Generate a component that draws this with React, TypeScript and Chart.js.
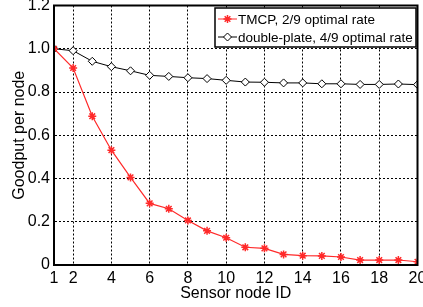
import React, { useEffect, useRef } from "react";
import { Chart, registerables } from "chart.js";

Chart.register(...registerables);

const nodeIds = [1, 2, 3, 4, 5, 6, 7, 8, 9, 10, 11, 12, 13, 14, 15, 16, 17, 18, 19, 20];
const tmcp = [1.0, 0.911, 0.688, 0.531, 0.405, 0.285, 0.26, 0.206, 0.158, 0.126, 0.082, 0.077, 0.049, 0.043, 0.042, 0.037, 0.023, 0.023, 0.023, 0.015];
const doublePlate = [1.0, 0.991, 0.942, 0.917, 0.898, 0.877, 0.872, 0.866, 0.862, 0.854, 0.846, 0.845, 0.842, 0.842, 0.838, 0.838, 0.835, 0.835, 0.837, 0.834];
const xTicks = [1, 2, 4, 6, 8, 10, 12, 14, 16, 18, 20];
const seriesLabels = ["TMCP, 2/9 optimal rate", "double-plate, 4/9 optimal rate"];
const xTitle = "Sensor node ID";
const yTitle = "Goodput per node";

const FONT = "'Liberation Sans', Arial, sans-serif";
const RED = "#ff2a2a";

function drawMarker(ctx: CanvasRenderingContext2D, style: string, x: number, y: number, r: number) {
  ctx.beginPath();
  if (style === "star") {
    ctx.moveTo(x - r, y);
    ctx.lineTo(x + r, y);
    ctx.moveTo(x, y - r);
    ctx.lineTo(x, y + r);
    const d = r * Math.SQRT1_2;
    ctx.moveTo(x - d, y - d);
    ctx.lineTo(x + d, y + d);
    ctx.moveTo(x - d, y + d);
    ctx.lineTo(x + d, y - d);
    ctx.stroke();
  } else {
    ctx.moveTo(x, y - r);
    ctx.lineTo(x + r, y);
    ctx.lineTo(x, y + r);
    ctx.lineTo(x - r, y);
    ctx.closePath();
    ctx.fill();
    ctx.stroke();
  }
}

const framePlugin = {
  id: "frameAndLegend",
  afterDraw(chart: any) {
    const { ctx, chartArea } = chart;
    const { left, top, right, bottom } = chartArea;
    ctx.save();
    ctx.strokeStyle = "#000";
    ctx.lineWidth = 2;
    ctx.setLineDash([]);
    ctx.strokeRect(left, top, right - left, bottom - top);

    // legend box
    const bx = 215, by = 8, bw = 201, bh = 39;
    ctx.fillStyle = "#fff";
    ctx.fillRect(bx, by, bw, bh);
    ctx.lineWidth = 1.5;
    ctx.strokeRect(bx, by, bw, bh);
    ctx.font = `13.5px ${FONT}`;
    ctx.textBaseline = "middle";
    ctx.textAlign = "left";
    const rows = [by + 11, by + 29];
    chart.data.datasets.forEach((ds: any, i: number) => {
      const y = rows[i];
      ctx.strokeStyle = ds.borderColor;
      ctx.lineWidth = 1;
      ctx.beginPath();
      ctx.moveTo(bx + 3, y);
      ctx.lineTo(bx + 22, y);
      ctx.stroke();
      ctx.fillStyle = ds.pointBackgroundColor;
      ctx.strokeStyle = ds.pointBorderColor;
      ctx.lineWidth = ds.pointBorderWidth || 1;
      drawMarker(ctx, ds.pointStyle, bx + 12.5, y, ds.pointRadius);
      ctx.fillStyle = "#000";
      ctx.fillText(ds.label, bx + 23, y + 1);
    });
    ctx.restore();
  },
};

export default function App() {
  const ref = useRef<HTMLCanvasElement>(null);
  useEffect(() => {
    document.body.style.margin = "0";
    const canvas = ref.current!;
    const chart = new Chart(canvas, {
      type: "line",
      data: {
        datasets: [
          {
            label: seriesLabels[0],
            data: nodeIds.map((x, i) => ({ x, y: tmcp[i] })),
            borderColor: RED,
            backgroundColor: RED,
            pointBackgroundColor: RED,
            pointBorderColor: RED,
            pointStyle: "star",
            pointRadius: 4,
            pointBorderWidth: 1.5,
            borderWidth: 1.2,
            tension: 0,
          },
          {
            label: seriesLabels[1],
            data: nodeIds.map((x, i) => ({ x, y: doublePlate[i] })),
            borderColor: "#000",
            backgroundColor: "#fff",
            pointBackgroundColor: "#fff",
            pointBorderColor: "#000",
            pointStyle: "rectRot",
            pointRadius: 4,
            pointBorderWidth: 1,
            borderWidth: 1,
            tension: 0,
          },
        ],
      },
      options: {
        animation: false,
        responsive: false,
        layout: { padding: { top: 5, right: 4, left: 0, bottom: 0 } },
        plugins: { legend: { display: false }, tooltip: { enabled: false } },
        scales: {
          x: {
            type: "linear",
            min: 1,
            max: 20,
            afterBuildTicks: (scale: any) => {
              scale.ticks = xTicks.map((v) => ({ value: v }));
            },
            afterFit: (scale: any) => {
              scale.height = 42;
              scale.paddingLeft = 0;
              scale.paddingRight = 0;
            },
            grid: { color: "#000", lineWidth: 1, drawTicks: false },
            border: { dash: [2, 2], color: "#000", width: 2 },
            ticks: {
              color: "#000",
              font: { family: FONT, size: 16 },
              padding: 4,
              maxRotation: 0,
              autoSkip: false,
            },
            title: {
              display: true,
              text: xTitle,
              color: "#000",
              font: { family: FONT, size: 16 },
              padding: { top: 0, bottom: 4 },
            },
          },
          y: {
            type: "linear",
            min: 0,
            max: 1.2,
            afterFit: (scale: any) => {
              scale.width = 54;
              scale.paddingTop = 0;
              scale.paddingBottom = 0;
            },
            grid: { color: "#000", lineWidth: 1, drawTicks: false },
            border: { dash: [2, 2], color: "#000", width: 2 },
            ticks: {
              stepSize: 0.2,
              color: "#000",
              font: { family: FONT, size: 16 },
              padding: 4,
              callback: (v: any) => (Math.abs(v) < 1e-9 ? "0" : Number(v).toFixed(1)),
            },
            title: {
              display: true,
              text: yTitle,
              color: "#000",
              font: { family: FONT, size: 16 },
              padding: { top: 10, bottom: 0 },
            },
          },
        },
      },
      plugins: [framePlugin],
    } as any);
    return () => chart.destroy();
  }, []);
  return (
    <div style={{ position: "absolute", left: 0, top: 0, width: 423, height: 307 }}>
      <canvas ref={ref} width={423} height={307} style={{ width: 423, height: 307 }} />
    </div>
  );
}
